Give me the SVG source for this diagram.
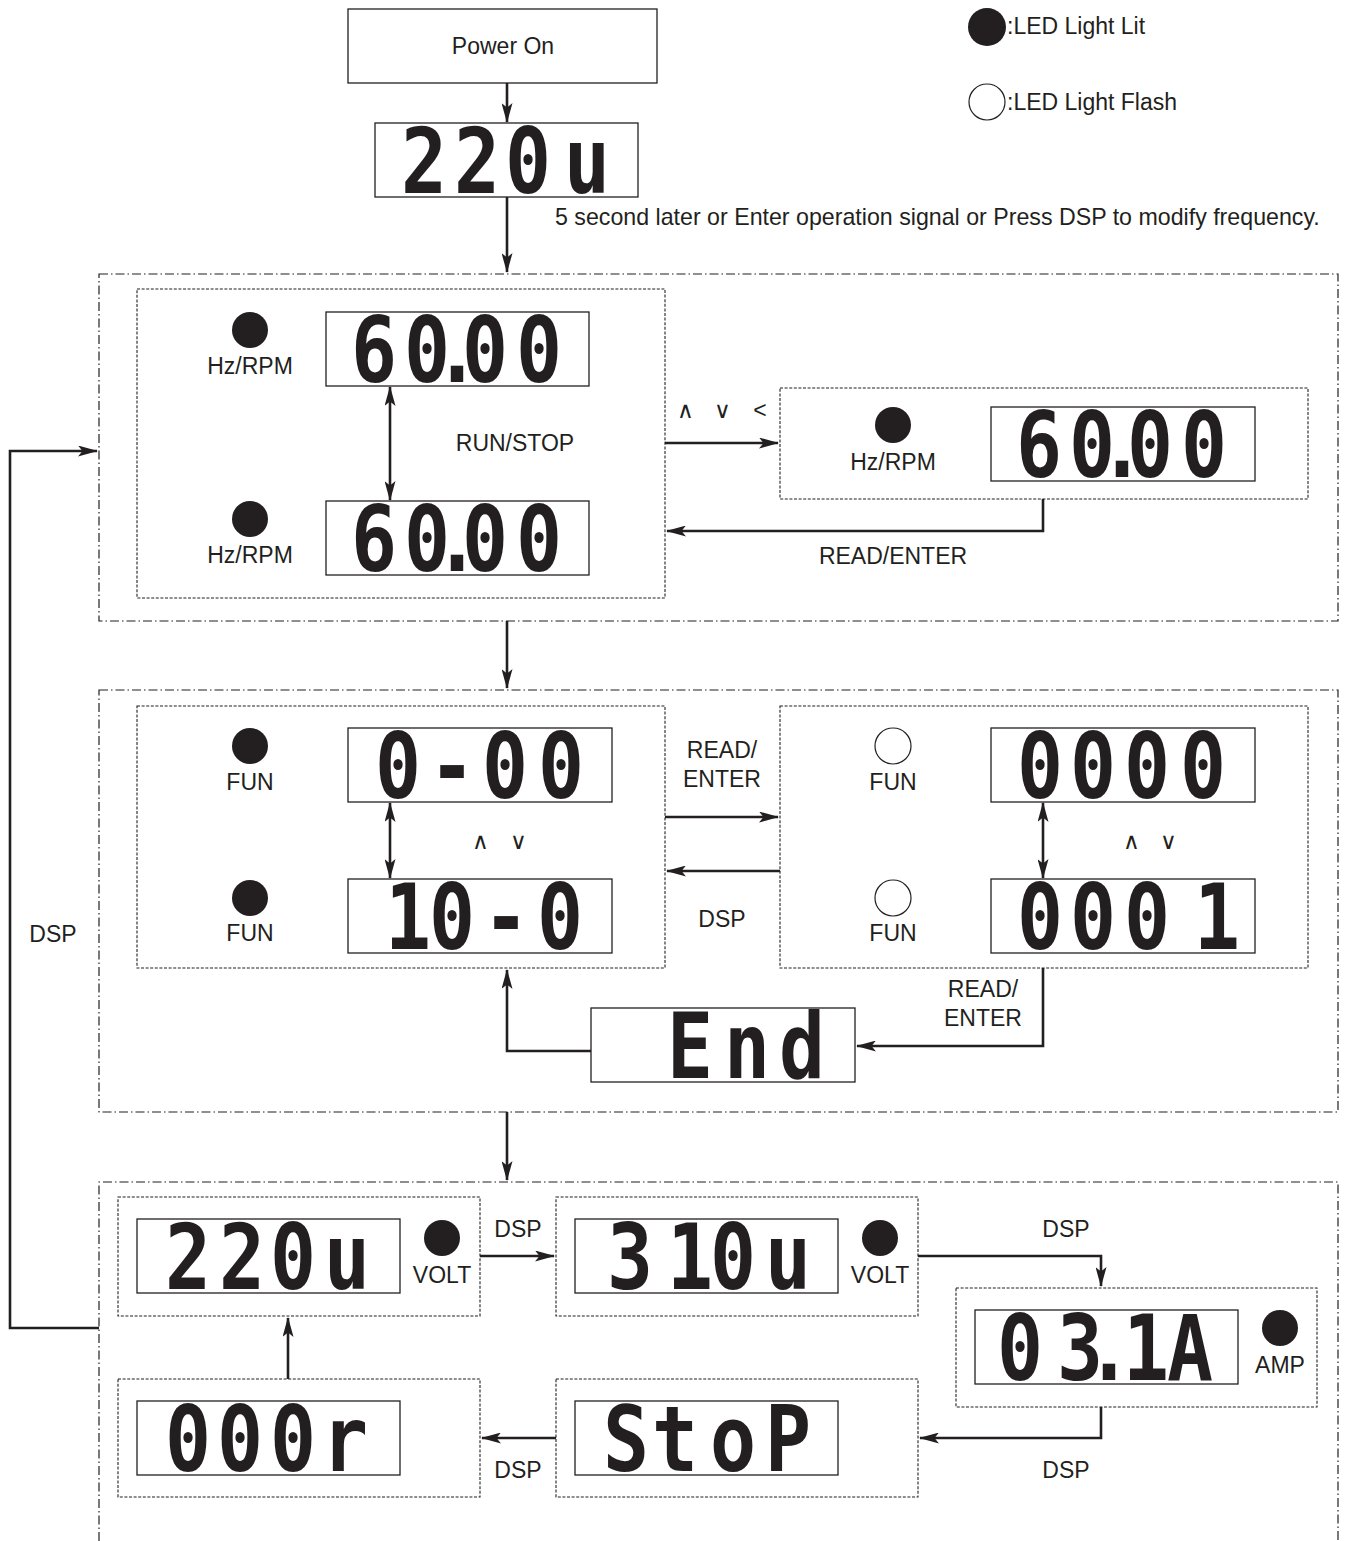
<svg xmlns="http://www.w3.org/2000/svg" width="1347" height="1541" viewBox="0 0 1347 1541">
<defs>
<style>
.bg{fill:#ffffff}
.lbl{font-family:"Liberation Sans",Arial,sans-serif;font-size:23px;fill:#231f20;text-anchor:middle}
.lft{text-anchor:start}
.long{font-size:23.2px}
.seg{font-family:"DejaVu Sans Mono",monospace;font-weight:bold;font-size:90px;fill:#231f20;text-anchor:middle}
.outer{fill:none;stroke:#231f20;stroke-width:1.2;stroke-dasharray:9 3 1.5 3}
.inner{fill:none;stroke:#231f20;stroke-width:1.1;stroke-dasharray:3 1.6}
.disp{fill:#ffffff;stroke:#231f20;stroke-width:1.3}
.solid{fill:#ffffff;stroke:#231f20;stroke-width:1.3}
.led{fill:#231f20}
.ledo{fill:#ffffff;stroke:#231f20;stroke-width:1.2}
.conn{fill:none;stroke:#231f20;stroke-width:2.6}
.arr{marker-end:url(#ah)}
.dbl{marker-start:url(#ah);marker-end:url(#ah)}
</style>
<marker id="ah" viewBox="0 0 20 11" refX="19" refY="5.5" markerWidth="20" markerHeight="11" markerUnits="userSpaceOnUse" orient="auto-start-reverse">
<path d="M0,0 L20,5.5 L0,11 L4.5,5.5 z" fill="#231f20"/>
</marker>
</defs>
<rect class="bg" x="0" y="0" width="1347" height="1541"/>

<g id="legend">
<circle class="led" cx="987" cy="27" r="19"/>
<text class="lbl lft" x="1007" y="34">:LED Light Lit</text>
<circle class="ledo" cx="987" cy="102" r="18"/>
<text class="lbl lft" x="1007" y="110">:LED Light Flash</text>
</g>

<g id="group1">
<rect class="outer" x="99" y="274" width="1239" height="347"/>
</g>
<g id="group2">
<rect class="outer" x="99" y="690" width="1239" height="422"/>
</g>
<g id="group3">
<path class="outer" d="M99,1541 L99,1182 L1338,1182 L1338,1541"/>
</g>

<g id="connectors">
<line class="conn arr" x1="507" y1="83" x2="507" y2="122"/>
<line class="conn arr" x1="507" y1="197" x2="507" y2="272"/>
<line class="conn dbl" x1="390" y1="387" x2="390" y2="500"/>
<line class="conn arr" x1="665" y1="443" x2="778" y2="443"/>
<polyline class="conn arr" points="1043,499 1043,531 667,531"/>
<line class="conn arr" x1="507" y1="621" x2="507" y2="688"/>
<line class="conn dbl" x1="390" y1="803" x2="390" y2="878"/>
<line class="conn dbl" x1="1043" y1="803" x2="1043" y2="878"/>
<line class="conn arr" x1="665" y1="817" x2="778" y2="817"/>
<line class="conn arr" x1="780" y1="871" x2="667" y2="871"/>
<polyline class="conn arr" points="1043,968 1043,1046 857,1046"/>
<polyline class="conn arr" points="591,1051 507,1051 507,970"/>
<line class="conn arr" x1="507" y1="1112" x2="507" y2="1180"/>
<line class="conn arr" x1="480" y1="1256" x2="554" y2="1256"/>
<polyline class="conn arr" points="918,1256 1101,1256 1101,1286"/>
<polyline class="conn arr" points="1101,1407 1101,1438 920,1438"/>
<line class="conn arr" x1="556" y1="1438" x2="482" y2="1438"/>
<line class="conn arr" x1="288" y1="1379" x2="288" y2="1318"/>
<polyline class="conn arr" points="99,1328 10,1328 10,451 97,451"/>
</g>

<g id="labels">
<text class="lbl lft long" x="555" y="225">5 second later or Enter operation signal or Press DSP to modify frequency.</text>
<text class="lbl" x="515" y="451">RUN/STOP</text>
<text class="lbl" x="685" y="418">∧</text>
<text class="lbl" x="722" y="418">∨</text>
<text class="lbl" x="760" y="418">&lt;</text>
<text class="lbl" x="893" y="564">READ/ENTER</text>
<text class="lbl" x="480" y="849">∧</text>
<text class="lbl" x="518" y="849">∨</text>
<text class="lbl" x="1131" y="849">∧</text>
<text class="lbl" x="1168" y="849">∨</text>
<text class="lbl" x="722" y="758">READ/</text>
<text class="lbl" x="722" y="787">ENTER</text>
<text class="lbl" x="722" y="927">DSP</text>
<text class="lbl" x="983" y="997">READ/</text>
<text class="lbl" x="983" y="1026">ENTER</text>
<text class="lbl" x="53" y="942">DSP</text>
<text class="lbl" x="518" y="1237">DSP</text>
<text class="lbl" x="1066" y="1237">DSP</text>
<text class="lbl" x="1066" y="1478">DSP</text>
<text class="lbl" x="518" y="1478">DSP</text>
</g>

<g id="power-on">
<rect class="solid" x="348" y="9" width="309" height="74"/>
<text class="lbl" x="503" y="54">Power On</text>
</g>

<g id="disp-220u-top">
<rect class="disp" x="375" y="123" width="263" height="74"/>
<text class="seg" transform="scale(0.85,1)" x="498.8 561.2 621.2 690.6" y="193">220u</text>
</g>

<g id="freq-box">
<rect class="inner" x="137" y="289" width="528" height="309"/>
<circle class="led" cx="250" cy="330" r="18"/>
<text class="lbl" x="250" y="374">Hz/RPM</text>
<rect class="disp" x="326" y="312" width="263" height="74"/>
<text class="seg" transform="scale(0.85,1)" x="440.0 502.4 537.6 570.6 634.1" y="382">60.00</text>
<circle class="led" cx="250" cy="519" r="18"/>
<text class="lbl" x="250" y="563">Hz/RPM</text>
<rect class="disp" x="326" y="501" width="263" height="74"/>
<text class="seg" transform="scale(0.85,1)" x="440.0 502.4 537.6 570.6 634.1" y="571">60.00</text>
</g>

<g id="freq-edit-box">
<rect class="inner" x="780" y="388" width="528" height="111"/>
<circle class="led" cx="893" cy="425" r="18"/>
<text class="lbl" x="893" y="470">Hz/RPM</text>
<rect class="disp" x="991" y="407" width="264" height="74"/>
<text class="seg" transform="scale(0.85,1)" x="1222.4 1284.7 1320.0 1352.9 1416.5" y="477">60.00</text>
</g>

<g id="fun-box">
<rect class="inner" x="137" y="706" width="528" height="262"/>
<circle class="led" cx="250" cy="746" r="18"/>
<text class="lbl" x="250" y="790">FUN</text>
<rect class="disp" x="348" y="728" width="264" height="74"/>
<text class="seg" transform="scale(0.85,1)" x="468.2 531.8 594.1 660.0" y="798">0-00</text>
<circle class="led" cx="250" cy="898" r="18"/>
<text class="lbl" x="250" y="941">FUN</text>
<rect class="disp" x="348" y="879" width="264" height="74"/>
<text class="seg" transform="scale(0.85,1)" x="480.0 531.8 595.3 658.8" y="949">10-0</text>
</g>

<g id="value-box">
<rect class="inner" x="780" y="706" width="528" height="262"/>
<circle class="ledo" cx="893" cy="746" r="18"/>
<text class="lbl" x="893" y="790">FUN</text>
<rect class="disp" x="991" y="728" width="264" height="74"/>
<text class="seg" transform="scale(0.85,1)" x="1223.5 1285.9 1349.4 1415.3" y="798">0000</text>
<circle class="ledo" cx="893" cy="898" r="18"/>
<text class="lbl" x="893" y="941">FUN</text>
<rect class="disp" x="991" y="879" width="264" height="74"/>
<text class="seg" transform="scale(0.85,1)" x="1223.5 1285.9 1349.4 1431.8" y="949">0001</text>
</g>

<g id="disp-end">
<rect class="disp" x="591" y="1008" width="264" height="74"/>
<text class="seg" transform="scale(0.85,1)" x="811.8 878.8 943.5" y="1078">End</text>
</g>

<g id="volt-220">
<rect class="inner" x="118" y="1197" width="362" height="119"/>
<rect class="disp" x="137" y="1219" width="263" height="74"/>
<text class="seg" transform="scale(0.85,1)" x="221.2 284.7 344.7 408.2" y="1289">220u</text>
<circle class="led" cx="442" cy="1238" r="18"/>
<text class="lbl" x="442" y="1283">VOLT</text>
</g>

<g id="volt-310">
<rect class="inner" x="556" y="1197" width="362" height="119"/>
<rect class="disp" x="575" y="1219" width="263" height="74"/>
<text class="seg" transform="scale(0.85,1)" x="741.2 811.8 862.4 927.1" y="1289">310u</text>
<circle class="led" cx="880" cy="1238" r="18"/>
<text class="lbl" x="880" y="1283">VOLT</text>
</g>

<g id="amp">
<rect class="inner" x="956" y="1288" width="361" height="119"/>
<rect class="disp" x="975" y="1310" width="263" height="74"/>
<text class="seg" transform="scale(0.85,1)" x="1200.0 1270.6 1304.7 1348.2 1400.0" y="1380">03.1A</text>
<circle class="led" cx="1280" cy="1328" r="18"/>
<text class="lbl" x="1280" y="1373">AMP</text>
</g>

<g id="stop">
<rect class="inner" x="556" y="1379" width="362" height="118"/>
<rect class="disp" x="575" y="1401" width="263" height="74"/>
<text class="seg" transform="scale(0.85,1)" x="736.5 794.1 862.4 927.1" y="1471">StoP</text>
</g>

<g id="rpm">
<rect class="inner" x="118" y="1379" width="362" height="118"/>
<rect class="disp" x="137" y="1401" width="263" height="74"/>
<text class="seg" transform="scale(0.85,1)" x="221.2 282.4 344.7 405.9" y="1471">000r</text>
</g>
</svg>
